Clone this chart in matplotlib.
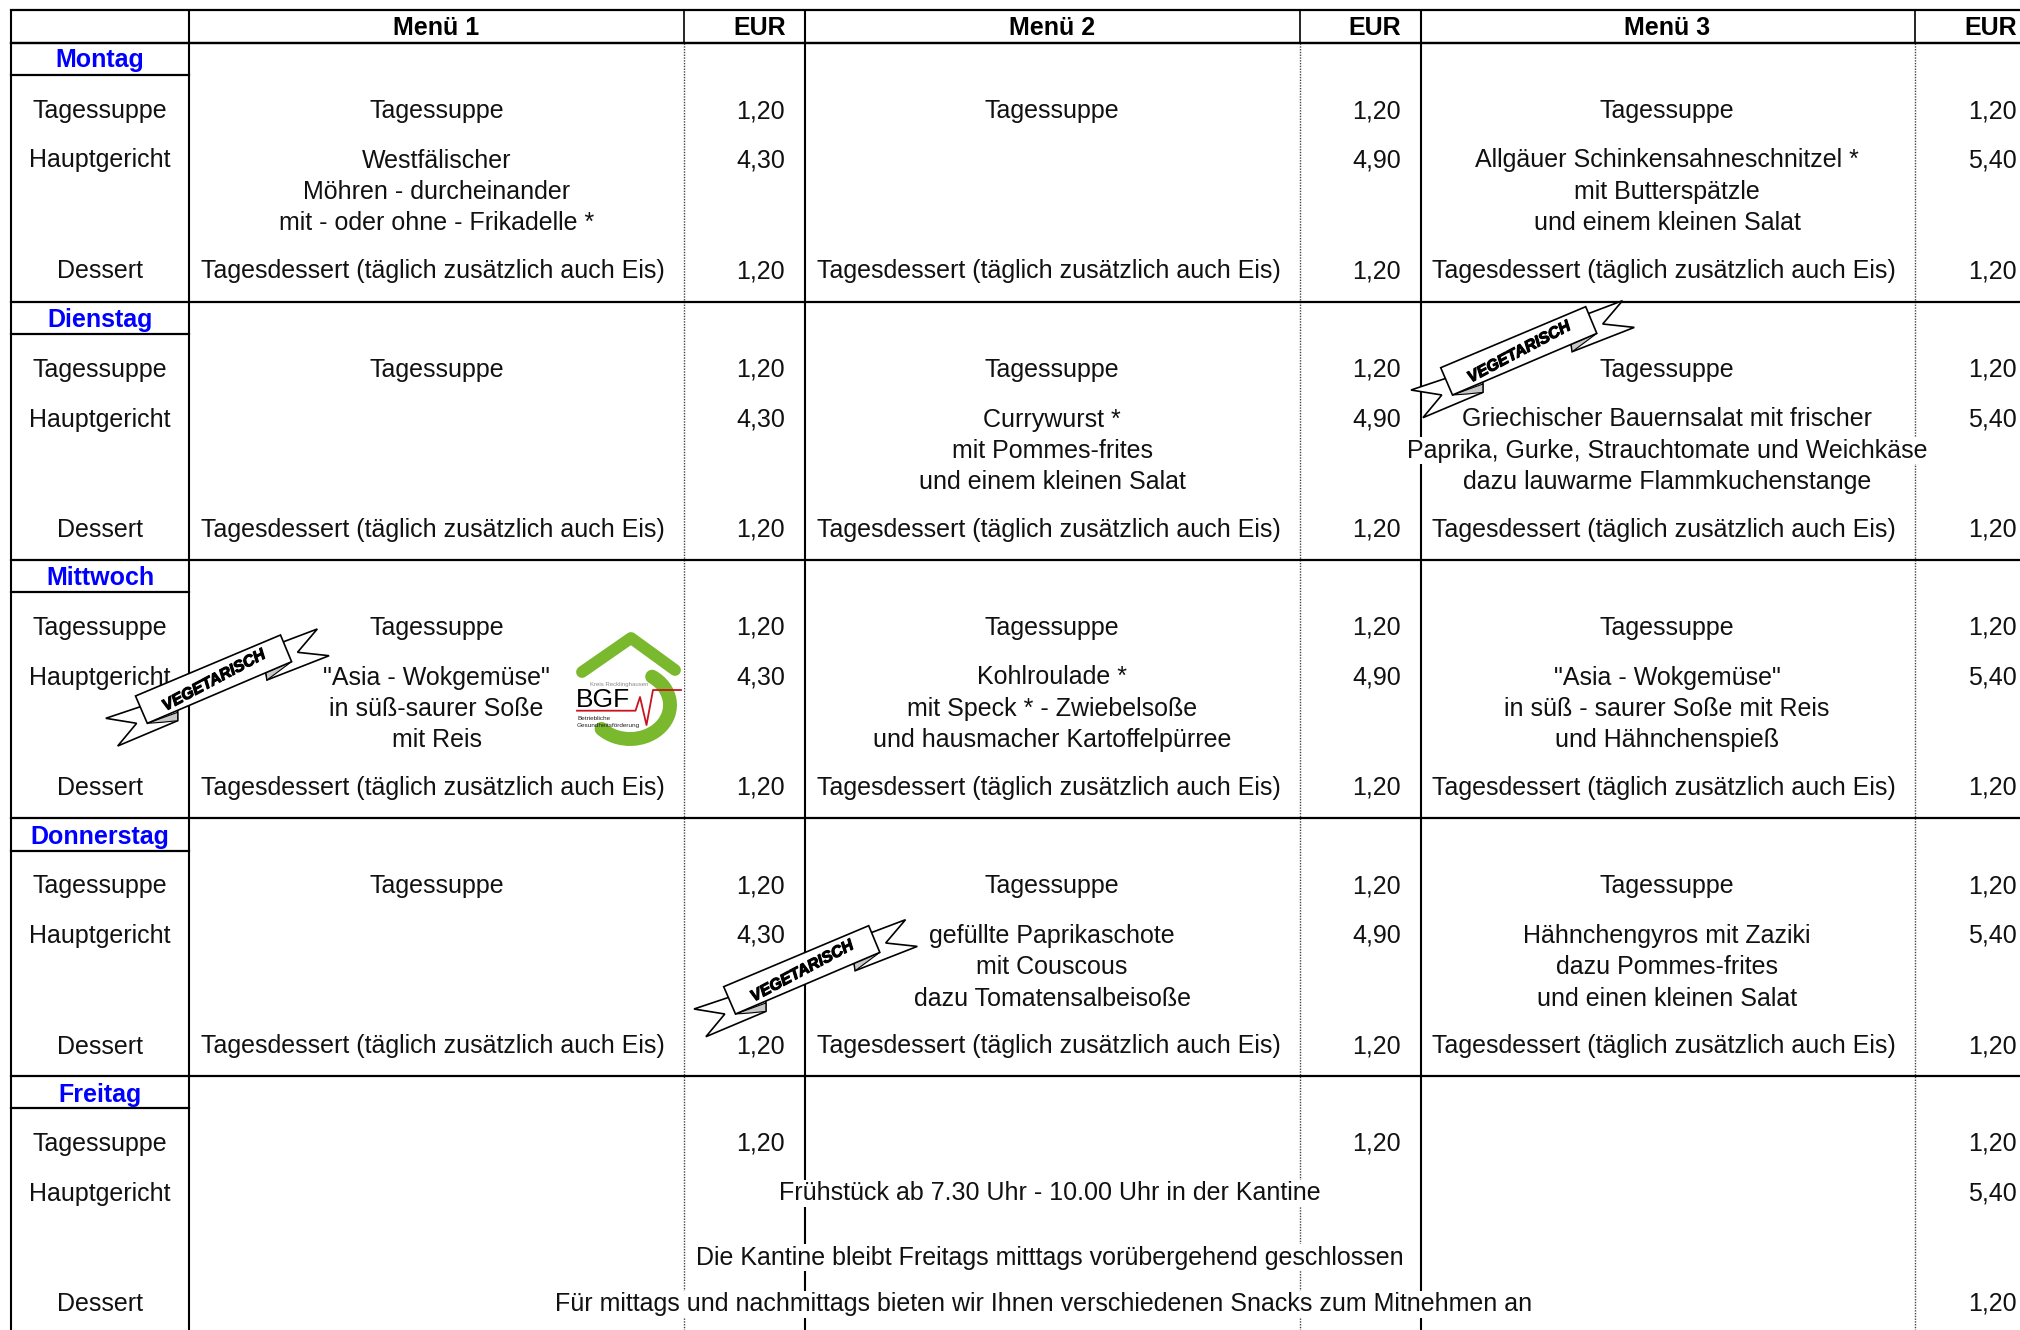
import numpy as np
import matplotlib
matplotlib.use("Agg")
import matplotlib.pyplot as plt
import matplotlib.patheffects as pe
from matplotlib.patches import Polygon, Arc, Rectangle

plt.rcParams['font.family'] = ['Liberation Sans', 'DejaVu Sans']

days = ["Montag", "Dienstag", "Mittwoch", "Donnerstag", "Freitag"]
courses = ["Tagessuppe", "Hauptgericht", "Dessert"]
headers = ["Menü 1", "Menü 2", "Menü 3"]
soup = "Tagessuppe"
dessert = "Tagesdessert (täglich zusätzlich auch Eis)"

menu1 = [
    ["Westfälischer", "Möhren - durcheinander", "mit - oder ohne - Frikadelle *"],
    [],
    ['"Asia - Wokgemüse"', "in süß-saurer Soße", "mit Reis"],
    [],
]
menu2 = [
    [],
    ["Currywurst *", "mit Pommes-frites", "und einem kleinen Salat"],
    ["Kohlroulade *", "mit Speck * - Zwiebelsoße", "und hausmacher Kartoffelpürree"],
    ["gefüllte Paprikaschote", "mit Couscous", "dazu Tomatensalbeisoße"],
]
menu3 = [
    ["Allgäuer Schinkensahneschnitzel *", "mit Butterspätzle", "und einem kleinen Salat"],
    ["Griechischer Bauernsalat mit frischer", "Paprika, Gurke, Strauchtomate und Weichkäse", "dazu lauwarme Flammkuchenstange"],
    ['"Asia - Wokgemüse"', "in süß - saurer Soße mit Reis", "und Hähnchenspieß"],
    ["Hähnchengyros mit Zaziki", "dazu Pommes-frites", "und einen kleinen Salat"],
]
soup_price = "1,20"
dessert_price = "1,20"
main_prices = ["4,30", "4,90", "5,40"]
friday_notes = [
    "Frühstück ab 7.30 Uhr - 10.00 Uhr in der Kantine",
    "Die Kantine bleibt Freitags mitttags vorübergehend geschlossen",
    "Für mittags und nachmittags bieten wir Ihnen verschiedenen Snacks zum Mitnehmen an",
]

# Spalten und Zeilen in Pixeln
COL_DAY = 100
COL_MENU = [436.5, 1052, 1667]
COL_DESSERT = [433, 1048.5, 1664]
COL_PRICE = [785, 1401, 2017]
COL_EUR = [759.5, 1375, 1990.5]
DAY_OFFSET = [0, 259, 517, 775.5, 1033]
FS = 18

fig = plt.figure(figsize=(20.2, 13.3), dpi=100)
ax = fig.add_axes([0, 0, 1, 1])
ax.set_xlim(0, 2020)
ax.set_ylim(1330, 0)
ax.axis('off')


def txt(x, y, s, ha='center', **kw):
    return ax.text(x, y, s, ha=ha, va='baseline', fontsize=kw.pop('fontsize', FS),
                   color=kw.pop('color', '#111111'), zorder=kw.pop('zorder', 3), **kw)


def cover(x, y, s):
    # Text läuft über die Zellgrenze, weißer Hintergrund wie im Original
    return txt(x, y, s, bbox=dict(fc='white', ec='none', pad=1.0))


# --- Gitter ---
for x in [11, 189, 805, 1421]:
    ax.plot([x, x], [10, 1330], color='black', lw=1.5, zorder=1, solid_capstyle='butt')
for x in [684, 1300, 1915]:
    ax.plot([x, x], [10, 42], color='black', lw=1.2, zorder=1)
    ax.plot([x, x], [43, 1330], color='#444444', lw=1.0, ls=(0, (1, 1)), zorder=1)
for y in [10, 42.5]:
    ax.plot([11, 2020], [y, y], color='black', lw=1.6, zorder=1)
for off in DAY_OFFSET:
    ax.plot([11, 2020], [42.5 + off] * 2, color='black', lw=1.6, zorder=1)
    ax.plot([11, 189], [75 + off] * 2, color='black', lw=1.6, zorder=1)

# --- Kopfzeile ---
for i, h in enumerate(headers):
    txt(COL_MENU[i], 35, h, fontweight='bold', color='black')
    txt(COL_EUR[i], 35, "EUR", fontweight='bold', color='black')

# --- Tage ---
for d, (day, off) in enumerate(zip(days, DAY_OFFSET)):
    txt(COL_DAY, 67 + off * 1.002, day, fontweight='bold', color='#0000ff')
    txt(COL_DAY, 118 + off, courses[0])
    txt(COL_DAY, 167.5 + off, courses[1])
    txt(COL_DAY, 278 + off, courses[2])

    if d < 4:
        for i, menu in enumerate([menu1, menu2, menu3]):
            txt(COL_MENU[i], 118 + off, soup)
            txt(COL_DESSERT[i], 278 + off, dessert)
            for k, line in enumerate(menu[d]):
                cover(COL_MENU[i], 167.5 + off + k * 31.3, line)
            txt(COL_PRICE[i], 118 + off, soup_price, ha='right')
            txt(COL_PRICE[i], 167.5 + off, main_prices[i], ha='right')
            txt(COL_PRICE[i], 278 + off, dessert_price, ha='right')

# --- Freitag ---
off = DAY_OFFSET[4]
for i in range(3):
    txt(COL_PRICE[i], 118 + off, soup_price, ha='right')
txt(COL_PRICE[2], 167.5 + off, main_prices[2], ha='right')
txt(COL_PRICE[2], 278 + off, dessert_price, ha='right')
cover(1050, 167.5 + off, friday_notes[0])
cover(1049.5, 231.5 + off, friday_notes[1])
cover(1043.5, 278 + off, friday_notes[2])


# --- Banner "VEGETARISCH" ---
def banner(x0, y0):
    def poly(pts, fc, lw=1.2):
        pts = np.array(pts) + [x0, y0]
        ax.add_patch(Polygon(pts, closed=True, fc=fc, ec='black', lw=lw, zorder=5))
    poly([(37.6, -12.6), (0, 0), (30.8, 5), (11.9, 27.7), (71.9, 2.4), (71.9, -10)], 'white')
    poly([(177.9, -76.6), (211.5, -89.3), (191.7, -66), (223.3, -62.6), (161.2, -38.3), (160.1, -45)], 'white')
    poly([(41.5, 5), (71.9, -6), (71.9, 2.4), (56, 4)], '#c8c8c8', 0.8)
    poly([(185.8, -56.6), (161.2, -38.3), (160.1, -46)], '#c8c8c8', 0.8)
    poly([(29.7, -22.3), (174.7, -83.3), (185.8, -56.6), (41.5, 5)], 'white')
    ax.text(x0 + 108, y0 - 38, "VEGETARISCH", rotation=28, rotation_mode='anchor',
            ha='center', va='center', fontsize=11.5, fontweight='bold', fontstyle='italic',
            color='black', zorder=6,
            path_effects=[pe.withStroke(linewidth=0.8, foreground='black')])


# --- Logo BGF ---
def logo():
    ax.add_patch(Rectangle((574, 630), 110, 122, fc='white', ec='none', zorder=2))
    green = '#7ab82e'
    ax.plot([582, 631, 675], [672, 638, 670], color=green, lw=8.5, zorder=3,
            solid_capstyle='round', solid_joinstyle='round')
    ax.add_patch(Arc((630, 705), 80, 68, theta1=-52, theta2=140, color=green, lw=10,
                     zorder=3, capstyle='round'))
    ax.plot([577, 635.5, 640, 646.5, 653, 681], [710.7, 710.7, 697, 725, 690, 690],
            color='#c8141e', lw=1.3, zorder=4)
    ax.text(576, 707, "BGF", ha='left', va='baseline', fontsize=19, color='black', zorder=4)
    ax.text(619, 686, "Kreis Recklinghausen", ha='center', va='baseline', fontsize=4.3, color='#888888', zorder=4)
    ax.text(577, 720, "Betriebliche", ha='left', va='baseline', fontsize=4.6, color='#222222', zorder=4)
    ax.text(577, 727, "Gesundheitsförderung", ha='left', va='baseline', fontsize=4.6, color='#222222', zorder=4)


logo()
banner(105.8, 718.3)
banner(1411, 390)
banner(694, 1009)

fig.savefig("out.png", dpi=100, facecolor='white')
